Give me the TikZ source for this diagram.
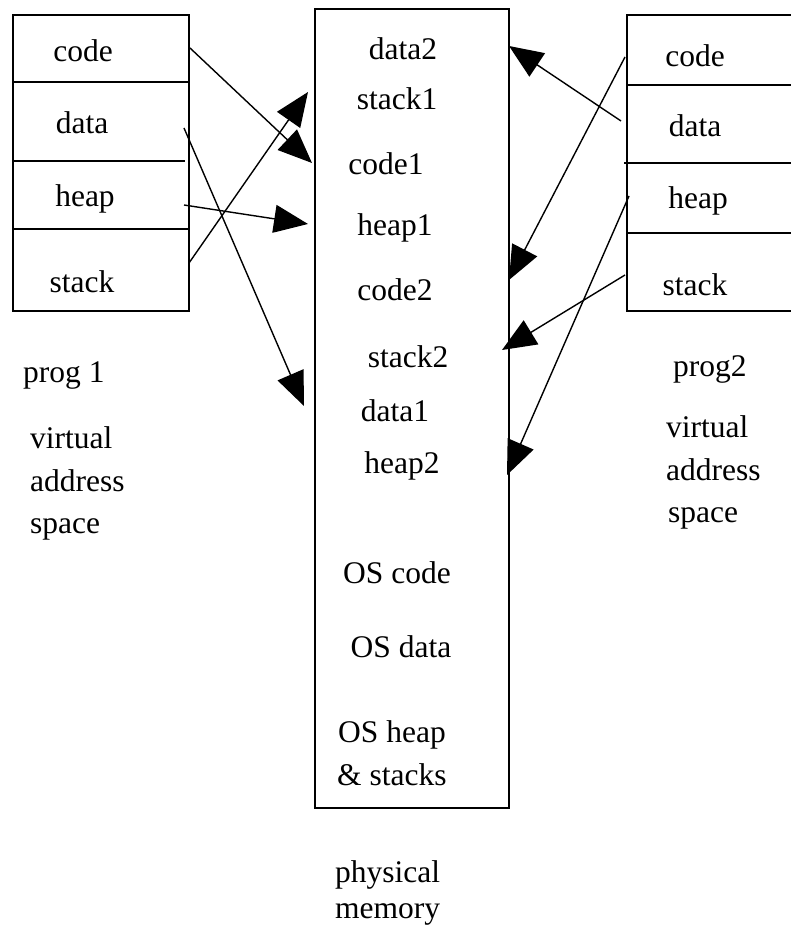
\documentclass[tikz,border=0pt]{standalone}
\usepackage{fontspec}
\setmainfont{Liberation Serif}
\usetikzlibrary{arrows.meta}
\begin{document}
\begin{tikzpicture}[x=1pt,y=-1pt,
  lbl/.style={inner sep=0pt,anchor=base,font=\fontsize{31.5}{38}\selectfont},
  lbll/.style={inner sep=0pt,anchor=base west,font=\fontsize{31.5}{38}\selectfont},
  boxline/.style={line width=2.4pt},
  conn/.style={line width=1.4pt,-{Triangle[length=34pt,width=28pt]}}]
\useasboundingbox (0,0) rectangle (790,933);
% left box (prog 1)
\draw[boxline] (13,15) rectangle (189,311);
\draw[boxline] (13,82) -- (189,82);
\draw[boxline] (13,161) -- (185,161);
\draw[boxline] (13,229) -- (189,229);
\node[lbl] (l1code) at (83,62) {code};
\node[lbl] (l1data) at (82,134) {data};
\node[lbl] (l1heap) at (85,207) {heap};
\node[lbl] (l1stack) at (82,292) {stack};
\node[lbll] (prog1) at (23,382) {prog 1};
\node[lbll] (v1a) at (30,448) {virtual};
\node[lbll] (v1b) at (30,491) {address};
\node[lbll] (v1c) at (30,533) {space};
% middle box (physical memory)
\draw[boxline] (315,9) rectangle (509,808);
\node[lbl] (data2) at (403,60) {data2};
\node[lbl] (stack1) at (397,110) {stack1};
\node[lbl] (code1) at (386,175) {code1};
\node[lbl] (heap1) at (395,235) {heap1};
\node[lbl] (code2) at (395,300) {code2};
\node[lbl] (stack2) at (408,367) {stack2};
\node[lbl] (data1) at (395,421) {data1};
\node[lbl] (heap2) at (402,473) {heap2};
\node[lbl] (oscode) at (397,583) {OS code};
\node[lbl] (osdata) at (401,657) {OS data};
\node[lbll] (osheap) at (338,742) {OS heap};
\node[lbll] (osstack) at (337,785) {\& stacks};
\node[lbll] (phys) at (335,882) {physical};
\node[lbll] (mem) at (335,918) {memory};
% right box (prog2)
\draw[boxline] (627,15) rectangle (795,311);
\draw[boxline] (627,85) -- (795,85);
\draw[boxline] (624,163) -- (795,163);
\draw[boxline] (627,233) -- (795,233);
\node[lbl] (r2code) at (695,67) {code};
\node[lbl] (r2data) at (695,137) {data};
\node[lbl] (r2heap) at (698,208) {heap};
\node[lbl] (r2stack) at (695,295) {stack};
\node[lbll] (prog2) at (673,376) {prog2};
\node[lbll] (v2a) at (666,437) {virtual};
\node[lbll] (v2b) at (666,480) {address};
\node[lbll] (v2c) at (668,522) {space};
% connector end points
\coordinate (a1s) at (190,48);  \coordinate (a1t) at (312,163);
\coordinate (a2s) at (189,263); \coordinate (a2t) at (308,92);
\coordinate (a3s) at (184,205); \coordinate (a3t) at (308,224);
\coordinate (a4s) at (184,128); \coordinate (a4t) at (304,406);
\coordinate (b1s) at (621,121); \coordinate (b1t) at (509,46);
\coordinate (b2s) at (625,57);  \coordinate (b2t) at (509,280);
\coordinate (b3s) at (625,275); \coordinate (b3t) at (502,350);
\coordinate (b4s) at (629,196); \coordinate (b4t) at (507,475);
\draw[conn] (a1s) -- (a1t);
\draw[conn] (a2s) -- (a2t);
\draw[conn] (a3s) -- (a3t);
\draw[conn] (a4s) -- (a4t);
\draw[conn] (b1s) -- (b1t);
\draw[conn] (b2s) -- (b2t);
\draw[conn] (b3s) -- (b3t);
\draw[conn] (b4s) -- (b4t);
\end{tikzpicture}
\end{document}
